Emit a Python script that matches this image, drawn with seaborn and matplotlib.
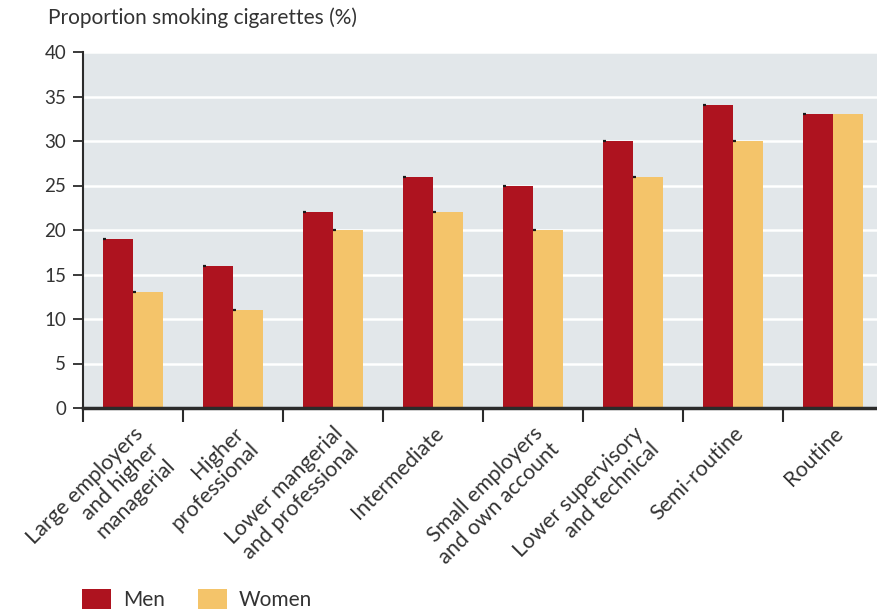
import matplotlib
matplotlib.use("Agg")
import matplotlib.pyplot as plt
import seaborn as sns
import pandas as pd
import numpy as np
from matplotlib.patches import Patch
from matplotlib.ticker import FixedLocator, NullFormatter

categories = [
    "Large employers\nand higher\nmanagerial",
    "Higher\nprofessional",
    "Lower mangerial\nand professional",
    "Intermediate",
    "Small employers\nand own account",
    "Lower supervisory\nand technical",
    "Semi-routine",
    "Routine",
]
men = [19, 16, 22, 26, 25, 30, 34, 33]
women = [13, 11, 20, 22, 20, 26, 30, 33]
series = ["Men", "Women"]
colors = {"Men": "#AE131F", "Women": "#F4C46A"}
yticks = [0, 5, 10, 15, 20, 25, 30, 35, 40]
ylabel = "Proportion smoking cigarettes (%)"

df = pd.DataFrame({
    "category": categories * 2,
    "value": men + women,
    "sex": ["Men"] * len(men) + ["Women"] * len(women),
})

sns.set_theme(style="white")
plt.rcParams["font.family"] = ["Lato", "DejaVu Sans"]

fig = plt.figure(figsize=(8.78, 6.12), dpi=100)
ax = fig.add_axes([83 / 878, 204 / 612, 800 / 878, 356 / 612])
ax.set_facecolor("#E2E7EA")

sns.barplot(data=df, x="category", y="value", hue="sex", order=categories,
            hue_order=series, palette=colors, width=0.6, ax=ax,
            legend=False, saturation=1, linewidth=0)

# small dark marks at bar top-left corners
n = len(categories)
for i, p in enumerate(ax.patches[:2 * n]):
    h = p.get_height()
    x0 = p.get_x()
    if i >= n and women[i - n] == men[i - n]:
        continue
    ax.hlines(h, x0, x0 + 0.03, color="#1a1a1a", lw=1.6, zorder=5)

ax.set_xlim(-0.5, n - 0.5)
ax.set_ylim(0, 40)
ax.set_yticks(yticks)
ax.set_yticklabels([str(t) for t in yticks], fontsize=13.5, color="#333333")
ax.yaxis.grid(True, color="white", lw=1.8)
ax.set_axisbelow(True)

ax.set_xticks(range(n))
ax.set_xticklabels(categories, rotation=45, ha="right", va="top",
                   rotation_mode="anchor", multialignment="right",
                   fontsize=15.5, color="#333333", linespacing=1.15)
ax.tick_params(axis="x", which="major", length=0, pad=11)
ax.xaxis.set_minor_locator(FixedLocator(np.arange(-0.5, n, 1.0)))
ax.xaxis.set_minor_formatter(NullFormatter())
ax.tick_params(axis="x", which="minor", length=10, width=1.5, color="#2b2b2b",
               direction="out", bottom=True)
ax.tick_params(axis="y", length=7, width=1.3, color="#2b2b2b", direction="out",
               left=True, pad=5)

ax.set_xlabel("")
ax.set_ylabel("")
for s in ["top", "right"]:
    ax.spines[s].set_visible(False)
ax.spines["left"].set_color("#2b2b2b")
ax.spines["left"].set_linewidth(1.5)
ax.spines["bottom"].set_color("#2b2b2b")
ax.spines["bottom"].set_linewidth(2.5)

fig.text(48 / 878, 1 - 18 / 612, ylabel, fontsize=15, color="#333333",
         ha="left", va="center")

handles = [Patch(facecolor=colors[s], edgecolor="none", label=s) for s in series]
fig.legend(handles=handles, loc="lower left", bbox_to_anchor=(80 / 878, 0.0),
           ncol=2, frameon=False, fontsize=15, handlelength=1.4,
           handleheight=1.1, handletextpad=0.55, columnspacing=1.6,
           borderpad=0.1, borderaxespad=0, labelcolor="#333333")

fig.savefig("out.png", dpi=100)
